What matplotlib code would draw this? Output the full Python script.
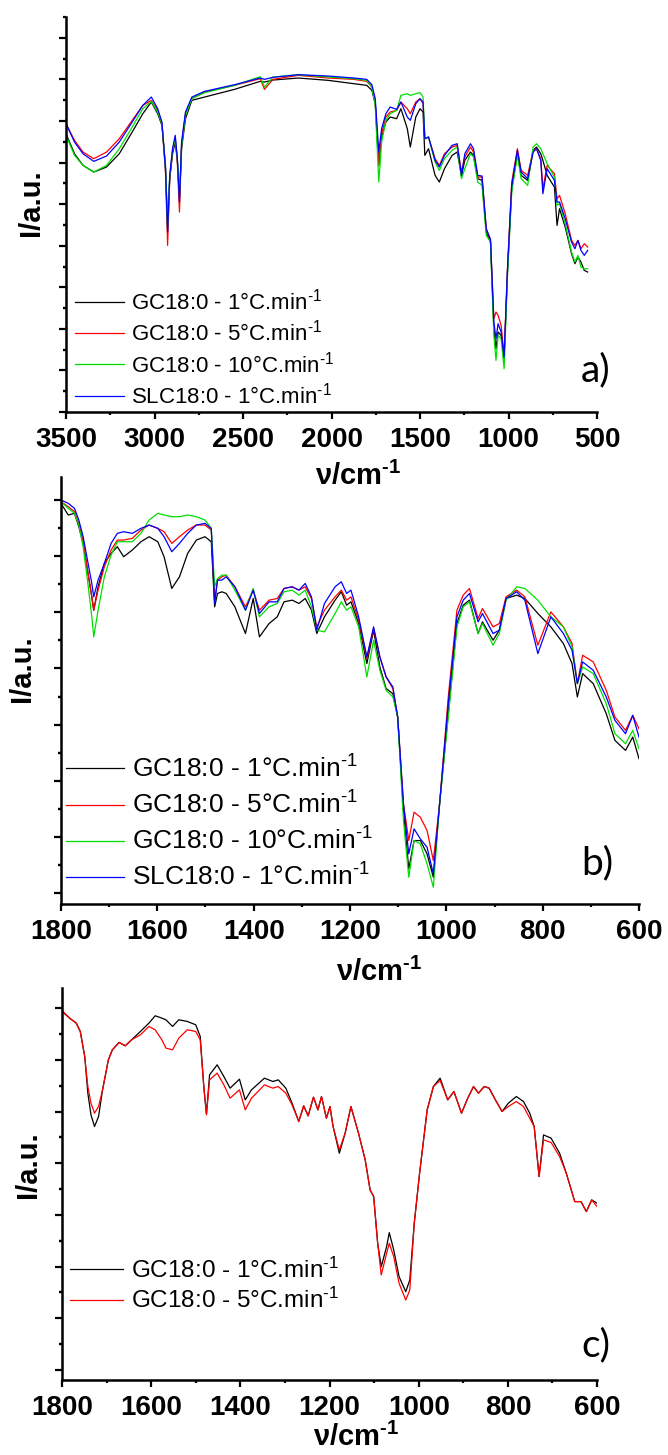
import matplotlib
matplotlib.use('Agg')
import numpy as np
import matplotlib.pyplot as plt

plt.rcParams['font.family'] = ['Liberation Sans', 'DejaVu Sans']
plt.rcParams['mathtext.default'] = 'regular'

# ---- panel a: full range (arbitrary intensity units)
wn_a = [3500, 3452, 3404, 3343, 3271, 3199, 3126, 3066, 3018, 2982,
        2958, 2938, 2926, 2914, 2898, 2883, 2871, 2859, 2847, 2825,
        2789, 2717, 2548, 2403, 2379, 2331, 2187, 2018, 1873, 1801,
        1772, 1753, 1733, 1717, 1693, 1669, 1632, 1608, 1572, 1555,
        1524, 1500, 1483, 1473, 1452, 1415, 1391, 1362, 1319, 1290,
        1266, 1247, 1215, 1198, 1174, 1150, 1126, 1102, 1083, 1071,
        1059, 1042, 1025, 1006, 982, 950, 929, 892, 861, 842,
        818, 806, 782, 741, 726, 712, 680, 644, 625, 608,
        591, 572, 553]
blue_a = [86.5, 81.0, 77.5, 75.2, 76.8, 81.0, 87.0, 92.0, 94.5, 91.0,
          87.0, 73.0, 54.0, 71.0, 79.0, 83.0, 76.0, 63.0, 81.0, 90.0,
          94.5, 96.2, 98.2, 100.2, 99.8, 100.4, 101.2, 100.8, 100.2, 99.8,
          98.2, 94.0, 78.0, 85.0, 89.5, 91.5, 90.8, 93.0, 88.5, 87.5,
          92.5, 94.0, 93.0, 82.0, 82.5, 75.5, 73.5, 77.0, 80.0, 80.5,
          71.0, 77.5, 80.5, 79.0, 71.0, 70.8, 55.0, 51.8, 27.0, 22.0,
          26.5, 24.0, 16.5, 43.0, 68.0, 78.5, 72.0, 70.0, 78.0, 79.0,
          75.5, 65.5, 73.0, 69.5, 63.0, 63.0, 58.0, 51.0, 49.0, 51.5,
          48.5, 47.0, 48.5]
red_a = [86.5, 81.5, 78.0, 76.0, 78.0, 82.0, 87.5, 92.0, 93.5, 90.5,
         86.5, 72.0, 50.0, 70.0, 78.5, 82.5, 75.0, 60.0, 80.5, 89.5,
         94.0, 96.0, 98.0, 100.0, 96.8, 99.8, 101.0, 100.2, 99.8, 99.2,
         97.5, 93.0, 74.0, 83.5, 88.5, 90.0, 90.5, 93.0, 91.0, 89.5,
         93.0, 94.0, 92.5, 82.0, 82.5, 76.0, 74.0, 77.5, 79.5, 80.0,
         72.0, 76.5, 79.5, 78.0, 70.5, 70.5, 55.0, 51.5, 28.0, 30.0,
         29.0, 26.0, 17.0, 43.0, 69.0, 79.0, 72.5, 71.0, 78.5, 79.0,
         76.0, 67.0, 74.0, 71.5, 64.0, 65.0, 59.5, 51.5, 50.0, 51.5,
         49.0, 50.5, 49.5]
green_a = [83.0, 77.0, 74.0, 72.0, 74.0, 79.0, 85.5, 91.0, 93.2, 90.0,
           86.5, 73.0, 55.0, 71.0, 78.5, 82.0, 76.0, 65.0, 80.0, 89.0,
           94.0, 95.8, 98.0, 100.6, 97.5, 100.5, 101.2, 100.5, 100.0, 99.5,
           97.5, 92.0, 69.0, 81.0, 87.5, 89.5, 90.5, 95.0, 95.5, 95.0,
           95.5, 95.8, 94.5, 82.0, 82.5, 75.0, 72.5, 76.0, 78.5, 79.5,
           70.0, 73.0, 77.5, 76.5, 69.0, 68.0, 53.0, 51.0, 23.0, 15.5,
           23.0, 22.0, 13.0, 41.0, 66.0, 77.0, 70.0, 68.0, 79.5, 80.5,
           79.0, 77.5, 74.5, 70.5, 62.0, 62.5, 56.5, 48.0, 45.0, 47.0,
           43.5, 43.0, 43.0]
black_a = [83.5, 77.5, 74.0, 72.0, 73.5, 77.5, 84.0, 89.5, 93.0, 89.5,
           86.0, 74.0, 56.0, 70.0, 77.5, 81.0, 75.5, 64.0, 79.0, 88.0,
           93.5, 94.5, 96.8, 99.2, 99.0, 99.6, 100.2, 99.5, 98.5, 98.0,
           96.5, 92.5, 74.0, 82.5, 87.0, 88.5, 88.0, 91.0, 85.0, 79.5,
           88.5, 91.0, 90.0, 77.0, 79.0, 71.0, 69.0, 73.0, 77.0, 78.0,
           71.0, 75.5, 78.0, 77.0, 70.0, 69.5, 54.0, 51.0, 25.0, 19.0,
           24.0, 23.0, 16.0, 42.0, 67.0, 77.5, 71.0, 69.5, 78.5, 79.5,
           77.5, 75.5, 71.0, 67.5, 56.0, 61.0, 55.5, 47.5, 44.5, 46.5,
           45.0, 42.5, 42.0]

# ---- panel b: 1800-600 region
wn_b = [1800, 1785, 1772, 1763, 1754, 1745, 1736, 1732, 1723, 1710,
        1696, 1683, 1670, 1652, 1634, 1617, 1599, 1586, 1570, 1554,
        1537, 1519, 1501, 1488, 1481, 1475, 1466, 1457, 1439, 1417,
        1401, 1388, 1368, 1351, 1337, 1320, 1306, 1293, 1280, 1269,
        1253, 1231, 1218, 1207, 1198, 1182, 1165, 1151, 1138, 1125,
        1111, 1101, 1089, 1078, 1067, 1054, 1040, 1027, 1014, 996,
        978, 965, 952, 934, 925, 903, 890, 876, 854, 837,
        810, 783, 757, 739, 728, 717, 695, 668, 650, 628,
        613, 600]
blue_b = [121.0, 120.0, 118.5, 115.0, 110.0, 103.0, 96.0, 92.0, 97.0, 102.0,
          108.0, 111.0, 111.5, 111.0, 112.5, 113.5, 112.5, 110.0, 105.5, 108.0,
          111.0, 113.5, 114.0, 112.5, 90.0, 97.0, 97.0, 98.0, 95.0, 88.0,
          94.0, 87.0, 90.5, 90.5, 94.5, 95.0, 94.0, 96.0, 92.0, 82.0,
          90.0, 95.0, 96.5, 93.0, 94.0, 86.0, 74.0, 83.0, 74.0, 68.0,
          65.0, 56.0, 30.0, 15.0, 22.5, 19.5, 17.0, 9.0, 30.0, 60.0,
          86.0, 91.0, 93.0, 84.5, 87.0, 81.0, 82.0, 91.5, 93.5, 91.0,
          75.0, 86.0, 81.0, 76.0, 66.0, 72.5, 70.0, 62.0, 55.0, 51.0,
          56.5, 50.0]
red_b = [120.5, 119.0, 117.5, 114.0, 108.5, 100.0, 92.0, 88.0, 94.0, 101.0,
         106.0, 109.0, 109.0, 109.5, 112.0, 113.5, 112.5, 111.5, 108.0, 110.0,
         112.0, 113.5, 113.5, 112.0, 91.0, 97.0, 98.0, 98.5, 95.0, 89.0,
         94.0, 88.0, 91.0, 91.5, 94.5, 95.0, 94.0, 95.0, 91.5, 83.0,
         88.0, 92.0, 94.0, 91.0, 92.0, 85.0, 73.5, 82.5, 74.0, 68.0,
         64.5, 56.0, 30.0, 19.0, 27.5, 26.0, 22.0, 13.0, 30.0, 62.0,
         88.0, 92.5, 94.5, 85.5, 88.5, 83.0, 84.0, 92.0, 94.0, 92.0,
         77.5, 87.5, 83.0, 78.0, 66.0, 74.5, 72.5, 64.0, 56.0, 52.0,
         56.5, 52.5]
green_b = [120.5, 118.5, 117.0, 113.5, 107.0, 97.0, 86.0, 80.0, 88.0, 98.0,
           104.5, 108.5, 108.5, 108.5, 111.0, 115.0, 117.0, 116.5, 116.0, 116.0,
           116.5, 116.0, 115.0, 112.5, 95.0, 97.5, 98.5, 98.5, 94.0, 88.0,
           94.5, 86.0, 89.0, 90.0, 93.5, 94.0, 92.5, 94.0, 89.0, 82.0,
           81.5, 87.0, 90.5, 88.0, 89.0, 83.0, 68.0, 79.0, 70.0, 64.0,
           62.0, 56.0, 25.0, 8.0, 19.0, 18.0, 12.0, 5.0, 30.0, 56.0,
           83.0, 89.0, 90.5, 81.0, 84.0, 77.5, 81.0, 91.0, 95.0, 94.5,
           91.0, 86.0, 83.0, 77.0, 66.0, 71.0, 69.0, 60.0, 51.0, 48.0,
           52.0, 46.5]
black_b = [120.0, 116.5, 117.0, 113.0, 108.0, 100.0, 92.0, 88.0, 95.0, 102.0,
           105.0, 107.0, 104.0, 106.0, 108.5, 110.0, 108.5, 104.0, 94.5, 98.0,
           105.0, 109.0, 110.0, 108.5, 89.0, 93.0, 93.5, 93.0, 89.0, 81.0,
           91.5, 80.0, 84.0, 86.0, 90.5, 91.0, 90.0, 91.5, 88.0, 81.0,
           86.0, 91.0, 93.5, 89.5, 90.5, 84.0, 72.0, 82.0, 71.0, 64.5,
           63.0, 56.0, 28.0, 10.5, 19.0, 19.0, 15.0, 8.0, 30.0, 57.0,
           84.0, 89.5, 91.0, 81.0, 84.5, 79.0, 82.0, 91.5, 92.5, 91.5,
           87.0, 83.0, 78.0, 72.0, 62.0, 69.0, 66.0, 57.0, 49.0, 46.0,
           50.0, 43.5]

# ---- panel c: 1 vs 5 C/min
wn_c = [1800, 1783, 1768, 1759, 1749, 1742, 1735, 1727, 1718, 1709,
        1696, 1687, 1672, 1658, 1644, 1624, 1605, 1591, 1576, 1567,
        1552, 1538, 1519, 1500, 1490, 1482, 1476, 1469, 1452, 1437,
        1423, 1402, 1389, 1375, 1346, 1327, 1315, 1298, 1284, 1269,
        1258, 1248, 1236, 1226, 1218, 1207, 1199, 1192, 1178, 1165,
        1152, 1135, 1120, 1109, 1101, 1092, 1084, 1072, 1066, 1056,
        1044, 1029, 1020, 1010, 998, 981, 967, 952, 935, 921,
        904, 890, 877, 866, 853, 842, 828, 813, 799, 781,
        765, 751, 741, 730, 720, 703, 684, 669, 650, 636,
        624, 612, 600]
black_c = [110.5, 108.5, 107.0, 104.5, 97.0, 86.0, 79.5, 76.0, 79.0, 87.0,
           96.0, 99.0, 101.2, 100.2, 102.0, 104.5, 107.0, 109.2, 108.5, 108.0,
           106.0, 108.0, 107.5, 106.5, 103.0, 88.0, 79.8, 91.5, 94.5, 91.0,
           87.5, 90.2, 84.0, 87.0, 90.5, 89.5, 90.0, 87.5, 83.0, 77.5,
           82.2, 79.2, 84.8, 81.0, 85.0, 78.5, 82.0, 76.0, 68.0, 74.0,
           82.0, 74.0, 66.0, 57.0, 55.0, 41.0, 34.0, 40.0, 44.2, 39.0,
           31.0, 26.5, 30.0, 47.0, 62.0, 81.0, 88.0, 90.5, 84.0, 86.5,
           80.0, 84.5, 88.0, 86.0, 88.0, 87.5, 84.0, 80.5, 83.0, 85.0,
           83.5, 80.0, 76.0, 61.0, 73.5, 72.5, 68.0, 62.0, 53.5, 53.5,
           50.5, 54.0, 53.0]
red_c = [110.8, 108.5, 107.0, 104.5, 97.0, 88.0, 83.0, 80.0, 82.0, 87.0,
         96.0, 99.0, 101.2, 100.2, 102.0, 103.5, 106.0, 105.0, 102.0, 99.5,
         99.0, 102.5, 105.0, 104.5, 102.0, 88.0, 79.5, 90.0, 92.0, 88.5,
         84.5, 87.0, 81.0, 84.5, 88.5, 87.5, 88.0, 86.0, 82.5, 77.5,
         82.2, 79.2, 84.8, 81.0, 85.0, 78.5, 82.0, 76.0, 69.0, 74.0,
         82.0, 74.0, 66.0, 57.0, 55.0, 41.0, 31.5, 38.0, 41.0, 37.0,
         29.0, 24.0, 27.0, 47.0, 62.0, 81.0, 88.0, 89.8, 84.0, 86.5,
         80.0, 84.5, 88.0, 86.0, 88.0, 87.5, 84.0, 80.5, 82.0, 83.5,
         82.0, 78.5, 76.0, 61.0, 72.0, 71.2, 67.0, 62.0, 53.5, 53.5,
         50.5, 54.0, 52.0]

labels = ['GC18:0 - 1°C.min$^{\u2010 1}$', 'GC18:0 - 5°C.min$^{\u2010 1}$',
          'GC18:0 - 10°C.min$^{\u2010 1}$', 'SLC18:0 - 1°C.min$^{\u2010 1}$']
colors = ['#000000', '#ff0000', '#00e000', '#0000ff']
xlab = 'ν/cm$^{\u20101}$'

xt_a = [3500, 3000, 2500, 2000, 1500, 1000, 500]
xt_b = [1800, 1600, 1400, 1200, 1000, 800, 600]

fig = plt.figure(figsize=(6.68, 14.55), dpi=100)


def setup(ax, xticks, xminor, ymax, ymajor, yoff, nmaj):
    ax.patch.set_visible(False)
    ax.set_xlim(xticks[0], xticks[-1])
    ax.set_xticks(xticks)
    ax.set_xticklabels([str(t) for t in xticks], fontweight='bold', fontsize=20)
    ax.set_xticks(np.arange(xticks[-1], xticks[0], xminor), minor=True)
    maj = yoff + ymajor * np.arange(nmaj)
    ax.set_yticks(maj)
    ax.set_yticks(np.concatenate([maj - ymajor / 2, maj + ymajor / 2]), minor=True)
    ax.set_ylim(0, ymax)
    ax.tick_params(axis='y', labelleft=False)
    ax.tick_params(which='major', direction='out', length=5, width=1.6, pad=6)
    ax.tick_params(which='minor', direction='out', length=2.5, width=1.6)
    for s in ['top', 'right']:
        ax.spines[s].set_visible(False)
    for s in ['left', 'bottom']:
        ax.spines[s].set_linewidth(1.8)
    ax.set_xlabel(xlab, fontsize=21, fontweight='bold')
    ax.set_ylabel('I/a.u.', fontsize=21, fontweight='bold')


# a)
ax = fig.add_axes([0.0988, 0.7168, 0.795, 0.2715])
for y, c, lab in zip([black_a, red_a, green_a, blue_a], colors, labels):
    ax.plot(wn_a, y, color=c, lw=0.9, label=lab)
setup(ax, xt_a, 250, 118.5, 12.47, 0.0, 10)
ax.xaxis.set_label_coords(0.55, -0.125)
ax.yaxis.set_label_coords(-0.04, 0.53)
ax.legend(loc='upper left', bbox_to_anchor=(0.017, 0.312), frameon=False,
          fontsize=16, handlelength=2.2, handletextpad=0.3, labelspacing=0.24,
          borderpad=0, borderaxespad=0)
ax.text(0.998, 0.106, 'a)', transform=ax.transAxes, ha='center', va='center',
        fontsize=28, family='Lato')

# b)
ax = fig.add_axes([0.0913, 0.3787, 0.8653, 0.2935])
for y, c, lab in zip([black_b, red_b, green_b, blue_b], colors, labels):
    ax.plot(wn_b, y, color=c, lw=0.9, label=lab)
setup(ax, xt_b, 100, 127.9, 16.81, 3.3, 8)
ax.xaxis.set_label_coords(0.55, -0.125)
ax.yaxis.set_label_coords(-0.043, 0.55)
ax.legend(loc='upper left', bbox_to_anchor=(0.009, 0.348), frameon=False,
          fontsize=19, handlelength=2.2, handletextpad=0.3, labelspacing=0.34,
          borderpad=0, borderaxespad=0)
ax.text(0.927, 0.096, 'b)', transform=ax.transAxes, ha='center', va='center',
        fontsize=28, family='Lato')

# c)
ax = fig.add_axes([0.0928, 0.0515, 0.801, 0.2694])
for y, c, lab in zip([black_c, red_c], colors[:2], labels[:2]):
    ax.plot(wn_c, y, color=c, lw=0.9, label=lab)
setup(ax, xt_b, 100, 117.5, 15.5, 3.0, 8)
ax.xaxis.set_label_coords(0.55, -0.108)
ax.yaxis.set_label_coords(-0.037, 0.55)
ax.legend(loc='upper left', bbox_to_anchor=(0.015, 0.312), frameon=False,
          fontsize=17.5, handlelength=2.2, handletextpad=0.3, labelspacing=0.2,
          borderpad=0, borderaxespad=0)
ax.text(0.998, 0.089, 'c)', transform=ax.transAxes, ha='center', va='center',
        fontsize=28, family='Lato')

fig.savefig('out.png', dpi=100)
